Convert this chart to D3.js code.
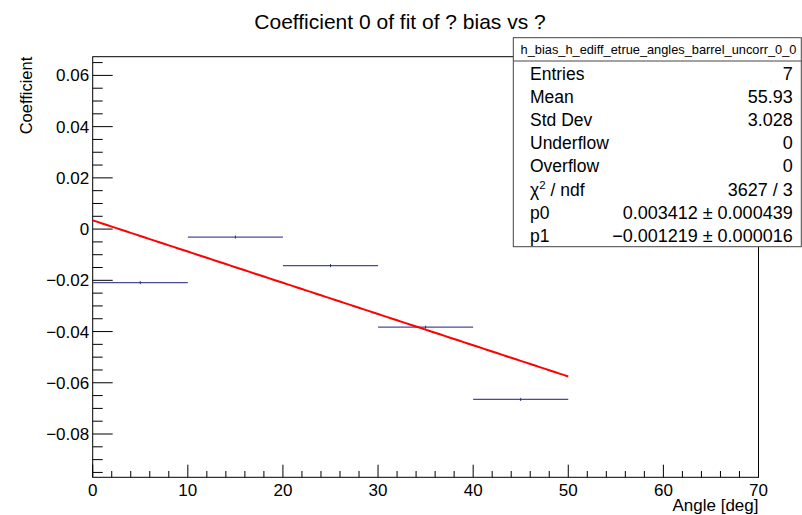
<!DOCTYPE html>
<html><head><meta charset="utf-8">
<script src="https://cdn.jsdelivr.net/npm/d3@7"></script>
<style>
html,body{margin:0;padding:0;background:#fff;}
svg text{font-family:"Liberation Sans",Arial,Helvetica,sans-serif;}
</style></head>
<body><svg id="c" width="802" height="515"></svg>
<script>
// ---- data ----
const binLow = [0, 10, 20, 30, 40];
const binHigh = [10, 20, 30, 40, 50];
const coeff = [-0.0209, -0.0031, -0.0143, -0.0383, -0.0665];
const coeffErr = [0.0006, 0.0006, 0.0006, 0.0006, 0.0006];
const fitParams = [0.003412, -0.001219];
const fitRange = [0, 50];
const xDomain = [0, 70];
const yDomain = [-0.0969, 0.0673];
const xTickLabels = [0, 10, 20, 30, 40, 50, 60, 70];
const yTickLabels = [-0.08, -0.06, -0.04, -0.02, 0, 0.02, 0.04, 0.06];
const statsName = "h_bias_h_ediff_etrue_angles_barrel_uncorr_0_0";
const statsLabels = ["Entries", "Mean", "Std Dev", "Underflow", "Overflow", "χ2 / ndf", "p0", "p1"];
const statsValues = ["7", "55.93", "3.028", "0", "0", "3627 / 3", "0.003412 ± 0.000439", "\u22120.001219 ± 0.000016"];

// ---- layout ----
const L = 92.7, R = 758.5, T = 56.7, B = 477.3;
const svg = d3.select("#c");
const x = d3.scaleLinear().domain(xDomain).range([L, R]);
const y = d3.scaleLinear().domain(yDomain).range([B, T]);

// frame
svg.append("rect").attr("x", L).attr("y", T).attr("width", R - L).attr("height", B - T)
  .attr("fill", "none").attr("stroke", "#000").attr("stroke-width", 1);

// x axis ticks
const xMinor = d3.range(0, 70.001, 2);
svg.append("g").selectAll("line").data(xMinor).join("line")
  .attr("x1", d => x(d)).attr("x2", d => x(d))
  .attr("y1", B).attr("y2", d => B - (d % 10 === 0 ? 12.6 : 6.3))
  .attr("stroke", "#000").attr("stroke-width", 1);
svg.append("g").selectAll("text").data(xTickLabels).join("text")
  .attr("x", d => x(d)).attr("y", 495.5).attr("text-anchor", "middle")
  .attr("font-size", 17).text(d => d);

// y axis ticks
const yMinor = d3.range(-0.095, 0.0651, 0.005).map(v => Math.round(v * 1000) / 1000);
svg.append("g").selectAll("line").data(yMinor).join("line")
  .attr("x1", L).attr("x2", d => L + (Math.abs(Math.round(d * 1000) % 20) === 0 ? 20 : 10))
  .attr("y1", d => y(d)).attr("y2", d => y(d))
  .attr("stroke", "#000").attr("stroke-width", 1);
svg.append("g").selectAll("text").data(yTickLabels).join("text")
  .attr("x", L - 3.5).attr("y", d => y(d) + 6).attr("text-anchor", "end")
  .attr("font-size", 17).text(d => d === 0 ? "0" : (d < 0 ? "\u2212" : "") + Math.abs(d).toFixed(2));

// data: horizontal bin bars + tiny errors
const hist = svg.append("g");
hist.selectAll("line.h").data(coeff).join("line").attr("class", "h")
  .attr("x1", (d, i) => x(binLow[i])).attr("x2", (d, i) => x(binHigh[i]))
  .attr("y1", d => y(d)).attr("y2", d => y(d))
  .attr("stroke", "#4a4a9c").attr("stroke-width", 1.2);
hist.selectAll("line.v").data(coeff).join("line").attr("class", "v")
  .attr("x1", (d, i) => x((binLow[i] + binHigh[i]) / 2)).attr("x2", (d, i) => x((binLow[i] + binHigh[i]) / 2))
  .attr("y1", (d, i) => y(d + coeffErr[i])).attr("y2", (d, i) => y(d - coeffErr[i]))
  .attr("stroke", "#30307a").attr("stroke-width", 1);

// fit line
const fitX = d3.range(fitRange[0], fitRange[1] + 0.001, 0.5);
svg.append("path").datum(fitX)
  .attr("d", d3.line().x(d => x(d)).y(d => y(fitParams[0] + fitParams[1] * d)))
  .attr("fill", "none").attr("stroke", "#ff0000").attr("stroke-width", 2);

// titles
svg.append("text").attr("x", 400).attr("y", 28.5).attr("text-anchor", "middle")
  .attr("font-size", 21).text("Coefficient 0 of fit of ? bias vs ?");
svg.append("text").attr("x", R).attr("y", 511).attr("text-anchor", "end")
  .attr("font-size", 17).text("Angle [deg]");
svg.append("text").attr("transform", `translate(31.5,${T}) rotate(-90)`)
  .attr("text-anchor", "end").attr("font-size", 16.5).text("Coefficient");

// stats box
const sb = svg.append("g");
const bx = 513.3, by = 37.7, bw = 288, bh = 209;
sb.append("rect").attr("x", bx).attr("y", by).attr("width", bw).attr("height", bh)
  .attr("fill", "#fff").attr("stroke", "#444").attr("stroke-width", 1);
sb.append("line").attr("x1", bx).attr("x2", bx + bw).attr("y1", 61).attr("y2", 61)
  .attr("stroke", "#444").attr("stroke-width", 1);
sb.append("text").attr("x", 658.5).attr("y", 54).attr("text-anchor", "middle")
  .attr("font-size", 12.8).text(statsName);
const rowY = i => 80 + i * 23.1;
statsLabels.forEach((lab, i) => {
  const t = sb.append("text").attr("x", 530).attr("y", rowY(i)).attr("font-size", 17.5);
  if (lab.startsWith("χ2")) {
    t.append("tspan").text("χ");
    t.append("tspan").attr("font-size", 11.5).attr("dy", -7).text("2");
    t.append("tspan").attr("dy", 7).text(" / ndf");
  } else t.text(lab);
});
sb.selectAll("text.v").data(statsValues).join("text").attr("class", "v")
  .attr("x", 792.7).attr("y", (d, i) => rowY(i)).attr("text-anchor", "end")
  .attr("font-size", 18).text(d => d);
</script></body></html>
